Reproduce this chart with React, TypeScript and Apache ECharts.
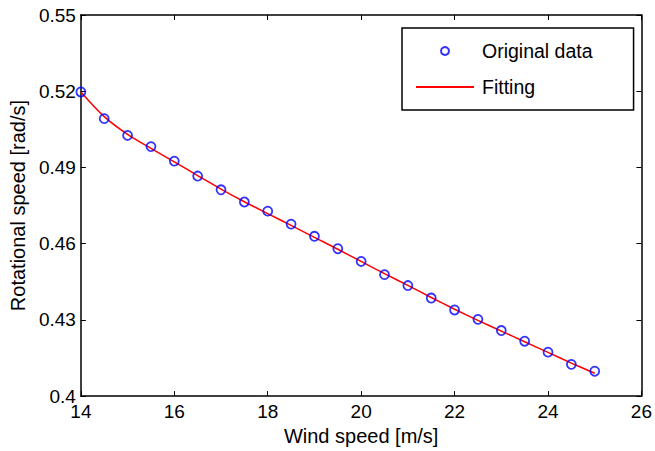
import React, { useEffect, useRef } from "react";
import * as echarts from "echarts";

const windSpeed = [14, 14.5, 15, 15.5, 16, 16.5, 17, 17.5, 18, 18.5, 19, 19.5, 20, 20.5, 21, 21.5, 22, 22.5, 23, 23.5, 24, 24.5, 25];
const originalData = [0.5197, 0.5092, 0.5026, 0.4982, 0.4925, 0.4866, 0.4812, 0.4764, 0.4728, 0.4677, 0.4629, 0.458, 0.453, 0.4478, 0.4435, 0.4386, 0.4339, 0.4302, 0.4258, 0.4216, 0.4173, 0.4125, 0.4098];
const fittingData = [0.5197, 0.51, 0.503, 0.4975, 0.4922, 0.4868, 0.4815, 0.4765, 0.4718, 0.4672, 0.4625, 0.4578, 0.453, 0.4482, 0.4436, 0.4388, 0.4342, 0.4298, 0.4256, 0.4214, 0.4172, 0.413, 0.409];
const yTicks = [0.4, 0.43, 0.46, 0.49, 0.52, 0.55];

const FONT = "Liberation Sans, Arial, Helvetica, sans-serif";

export default function App() {
  const ref = useRef<HTMLDivElement>(null);
  useEffect(() => {
    if (!ref.current) return;
    const chart = echarts.init(ref.current, undefined, { renderer: "svg" });
    const axisLine = { show: true, lineStyle: { color: "#000", width: 1.5 } };
    const tick = { show: true, inside: true, length: 5, lineStyle: { color: "#000", width: 1 } };
    chart.setOption({
      animation: false,
      backgroundColor: "#fff",
      textStyle: { fontFamily: FONT },
      grid: { left: 79, right: 11, top: 15, bottom: 50, containLabel: false },
      legend: {
        orient: "vertical",
        left: 402,
        top: 28,
        itemWidth: 58,
        itemHeight: 8,
        itemGap: 16,
        padding: [13, 41, 13, 13],
        borderColor: "#000",
        borderWidth: 1.5,
        backgroundColor: "#fff",
        textStyle: { fontFamily: FONT, fontSize: 19.5, color: "#000", padding: [0, 0, 0, 3] },
        data: [
          { name: "Original data" },
          { name: "Fitting", itemStyle: { color: "rgba(0,0,0,0)", borderColor: "rgba(0,0,0,0)", borderWidth: 0 } },
        ],
      },
      xAxis: [
        {
          type: "value",
          min: 14,
          max: 26,
          interval: 2,
          name: "Wind speed [m/s]",
          nameLocation: "middle",
          nameGap: 25,
          nameTextStyle: { fontFamily: FONT, fontSize: 20, color: "#000" },
          axisLine,
          axisTick: tick,
          splitLine: { show: false },
          axisLabel: { color: "#000", fontSize: 19, fontFamily: FONT, margin: 6 },
        },
        {
          type: "value",
          position: "top",
          min: 14,
          max: 26,
          interval: 2,
          axisLine,
          axisTick: tick,
          splitLine: { show: false },
          axisLabel: { show: false },
        },
      ],
      yAxis: [
        {
          type: "value",
          min: 0.4,
          max: 0.55,
          name: "Rotational speed [rad/s]",
          nameLocation: "middle",
          nameGap: 47,
          nameTextStyle: { fontFamily: FONT, fontSize: 20, color: "#000" },
          axisLine,
          axisTick: { ...tick, customValues: yTicks },
          splitLine: { show: false },
          axisLabel: { color: "#000", fontSize: 19, fontFamily: FONT, margin: 5, customValues: yTicks },
        },
        {
          type: "value",
          position: "right",
          min: 0.4,
          max: 0.55,
          axisLine,
          axisTick: { ...tick, customValues: yTicks },
          splitLine: { show: false },
          axisLabel: { show: false, customValues: yTicks },
        },
      ],
      series: [
        {
          name: "Fitting",
          type: "line",
          data: windSpeed.map((x, i) => [x, fittingData[i]]),
          smooth: 0.3,
          symbol: "none",
          lineStyle: { color: "#ff0000", width: 1.5 },
          itemStyle: { color: "#ff0000" },
          z: 2,
        },
        {
          name: "Original data",
          type: "scatter",
          data: windSpeed.map((x, i) => [x, originalData[i]]),
          symbol: "circle",
          symbolSize: 9,
          itemStyle: { color: "rgba(0,0,0,0)", borderColor: "#0000ff", borderWidth: 1.8 },
          z: 3,
        },
      ],
    });
    return () => chart.dispose();
  }, []);
  return <div ref={ref} style={{ position: "fixed", left: 0, top: 0, width: 655, height: 451 }} />;
}
